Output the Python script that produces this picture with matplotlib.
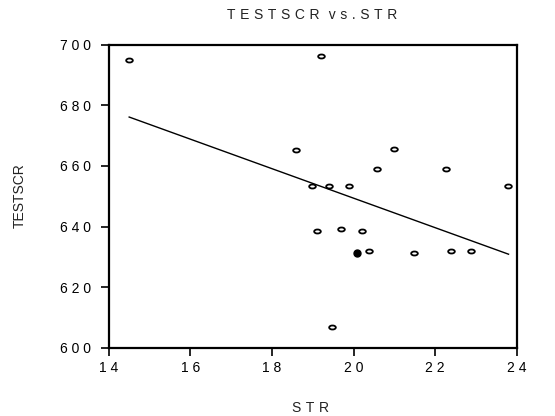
import numpy as np
import matplotlib; matplotlib.use('Agg')
import matplotlib.pyplot as plt
from matplotlib.path import Path
from matplotlib.transforms import Affine2D

plt.rcParams['font.family'] = ['Liberation Sans', 'DejaVu Sans']

# scatter data
strv = [14.5, 19.2, 18.58, 20.98, 20.58, 22.27, 18.99, 19.40, 19.89, 23.78,
        19.10, 19.69, 20.20, 20.38, 21.48, 22.39, 22.88, 19.48]
testscr = [695.0, 696.3, 665.2, 665.5, 659.1, 659.1, 653.4, 653.4, 653.4, 653.4,
           638.4, 639.2, 638.4, 631.8, 631.3, 631.8, 631.8, 606.9]
# highlighted (filled) observation
hl_str = [20.09]
hl_testscr = [631.3]
# fitted regression line endpoints
fit_x = [14.5, 23.8]
fit_y = [676.1, 630.9]

xticks = [14, 16, 18, 20, 22, 24]
yticks = [600, 620, 640, 660, 680, 700]

def spaced(s, sep=' '):
    return sep.join(str(s))

ell = Path(Affine2D().scale(1, 0.6).transform(Path.unit_circle().vertices),
           Path.unit_circle().codes)

fig = plt.figure(figsize=(5.55, 4.16), dpi=100)
ax = fig.add_axes([0.196, 0.1635, 0.735, 0.7295])
ax.plot(fit_x, fit_y, color='black', lw=1.0)
ax.plot(strv, testscr, ls='none', marker=ell, ms=4.8, mfc='white', mec='black', mew=1.3)
ax.plot(hl_str, hl_testscr, ls='none', marker='o', ms=5, mfc='black', mec='black')
ax.set_xlim(14, 24)
ax.set_ylim(600, 700)
ax.set_xticks(xticks)
ax.set_xticklabels([spaced(t) for t in xticks])
ax.set_yticks(yticks)
ax.set_yticklabels([spaced(t) for t in yticks])
for s in ax.spines.values():
    s.set_linewidth(1.6)
ax.tick_params(direction='out', length=6, width=1.2, labelsize=10)
ax.tick_params(axis='y', pad=7)
ax.tick_params(axis='x', pad=3.5)

sp = '\u2004'
fig.text(0.562, 0.964, spaced('TESTSCR', sp) + sp + sp + spaced('vs.', sp) + sp + spaced('STR', sp),
         ha='center', va='center', fontsize=10, color='#222222')
fig.text(0.559, 0.019, spaced('STR', sp), ha='center', va='center', fontsize=10, color='#222222')
fig.text(0.036, 0.529, 'TESTSCR', ha='center', va='center', rotation=90,
         fontsize=10, color='#222222')

fig.savefig('out.png', dpi=100)
